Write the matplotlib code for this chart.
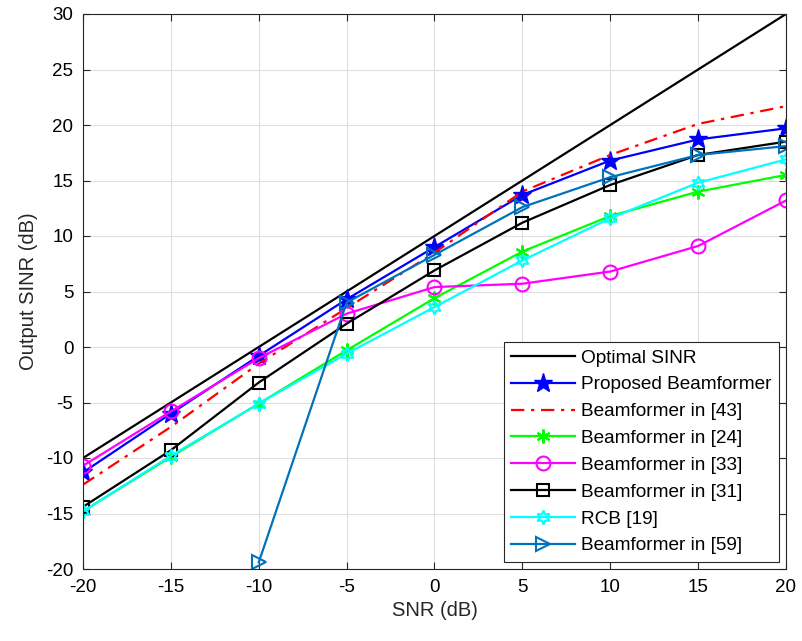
import numpy as np
import matplotlib
matplotlib.use("Agg")
import matplotlib.pyplot as plt

snr = [-20, -15, -10, -5, 0, 5, 10, 15, 20]
optimal = [-10, -5, 0, 5, 10, 15, 20, 25, 30]
proposed = [-11.3, -6.0, -0.8, 4.3, 9.0, 13.7, 16.8, 18.7, 19.7]
bf43 = [-12.4, -7.2, -1.5, 3.5, 8.5, 14.0, 17.3, 20.1, 21.7]
bf24 = [-14.8, -9.9, -5.1, -0.3, 4.4, 8.6, 11.8, 14.0, 15.5]
bf33 = [-10.7, -5.8, -1.0, 3.0, 5.4, 5.7, 6.8, 9.1, 13.2]
bf31 = [-14.4, -9.3, -3.2, 2.1, 6.9, 11.2, 14.6, 17.3, 18.5]
rcb = [-14.8, -9.8, -5.1, -0.6, 3.6, 7.8, 11.6, 14.8, 16.9]
bf59 = [np.nan, np.nan, -19.4, 4.0, 8.3, 12.6, 15.3, 17.3, 18.1]

plt.rcParams['font.family'] = ['Liberation Sans', 'DejaVu Sans']
plt.rcParams['axes.unicode_minus'] = False

fig = plt.figure(figsize=(8.02, 6.41), dpi=100)
ax = fig.add_axes([83/802, 1-569/641, (786-83)/802, (569-14)/641])

lw = 1.6
ms = 10
ax.plot(snr, optimal, color='black', lw=lw, label='Optimal SINR')
ax.plot(snr, proposed, color='#0000ff', lw=lw, marker='*', ms=14, mfc='#0000ff', mec='#0000ff', label='Proposed Beamformer')
ax.plot(snr, bf43, color='red', lw=lw, ls=(0, (6, 3, 1.5, 3)), label='Beamformer in [43]')
ax.plot(snr, bf24, color='#00ff00', lw=lw, marker=(6, 2, 0), ms=ms, mew=1.5, label='Beamformer in [24]')
ax.plot(snr, bf33, color='#ff00ff', lw=lw, marker='o', ms=ms, mfc='none', mew=1.5, label='Beamformer in [33]')
ax.plot(snr, bf31, color='black', lw=lw, marker='s', ms=8, mfc='none', mew=1.5, label='Beamformer in [31]')
ax.plot(snr, rcb, color='#00ffff', lw=lw, marker=(6, 1, 0), ms=ms, mfc='none', mew=1.5, label='RCB [19]')
ax.plot(snr, bf59, color='#0072bd', lw=lw, marker='>', ms=ms, mfc='none', mew=1.5, label='Beamformer in [59]')

ax.set_xlim(-20, 20)
ax.set_ylim(-20, 30)
ax.set_xticks(np.arange(-20, 21, 5))
ax.set_yticks(np.arange(-20, 31, 5))
ax.grid(True, color='#dfdfdf', lw=0.8)
ax.set_axisbelow(True)
ax.tick_params(labelsize=13.5, direction='in', length=5, pad=7, color='#262626', top=True, right=True)
for s in ax.spines.values():
    s.set_color('#262626')
    s.set_linewidth(0.8)
ax.set_xlabel('SNR (dB)', fontsize=14.5, color='#262626', labelpad=4)
ax.set_ylabel('Output SINR (dB)', fontsize=14.5, color='#262626', labelpad=6)

leg = ax.legend(loc='lower right', fontsize=13.7, frameon=True, fancybox=False, edgecolor='#262626',
                framealpha=1, bbox_to_anchor=(0.990, 0.0126), bbox_transform=ax.transAxes,
                borderaxespad=0.0, handlelength=3.35, handletextpad=0.3,
                labelspacing=0.5, borderpad=0.4)
leg.get_frame().set_linewidth(0.8)

fig.savefig('out.png', dpi=100)
